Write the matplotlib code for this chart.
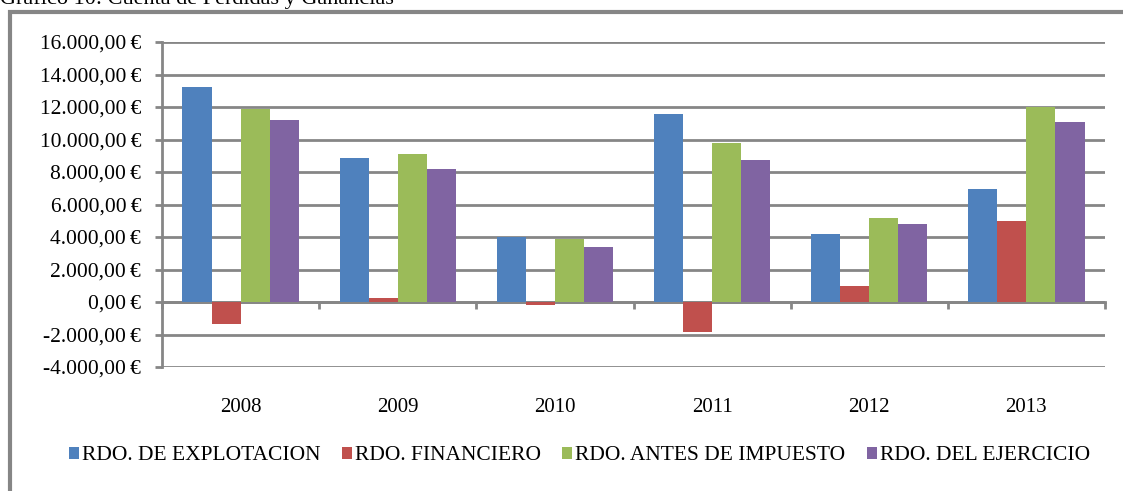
import matplotlib.pyplot as plt
import matplotlib.patches as mpatches
import numpy as np

# Data
years = ["2008", "2009", "2010", "2011", "2012", "2013"]
explotacion = [13250, 8860, 4000, 11600, 4200, 6950]
financiero = [-1350, 250, -200, -1850, 1000, 5000]
antes_impuesto = [11900, 9100, 3850, 9800, 5200, 12000]
ejercicio = [11200, 8200, 3400, 8750, 4800, 11100]

series_names = ["RDO. DE EXPLOTACION", "RDO. FINANCIERO",
                "RDO. ANTES DE IMPUESTO", "RDO. DEL EJERCICIO"]
colors = ["#4F81BD", "#C0504D", "#9BBB59", "#8064A2"]
yticks = list(range(-4000, 16001, 2000))

plt.rcParams['font.family'] = ['Liberation Serif', 'DejaVu Serif']
grey = "#868686"


def fmt_eur(v):
    s = f"{abs(v):,.2f}".replace(",", "X").replace(".", ",").replace("X", ".")
    return ("-" if v < 0 else "") + s + "\u2009€"


fig = plt.figure(figsize=(11.23, 4.91), dpi=100)
ax = fig.add_axes([162 / 1123, 1 - 367 / 491, 943 / 1123, 325 / 491])

x = np.arange(len(years))
w = 0.185
data = [explotacion, financiero, antes_impuesto, ejercicio]
for i, (vals, name, c) in enumerate(zip(data, series_names, colors)):
    ax.bar(x + (i - 1.5) * w, vals, width=w, color=c, label=name, zorder=3)

ax.set_xlim(-0.5, len(years) - 0.5)
ax.set_ylim(-4000, 16000)
ax.set_yticks(yticks)
ax.set_yticklabels([fmt_eur(v) for v in yticks], fontsize=15.5)
ax.yaxis.grid(True, color=grey, linewidth=2, zorder=0)
ax.tick_params(axis='y', direction='out', length=5, width=2, color=grey, pad=10)

ax.set_xticks(x)
ax.set_xticklabels(years, fontsize=15)
ax.tick_params(axis='x', length=0, pad=22)

for s in ['top', 'right', 'bottom']:
    ax.spines[s].set_visible(False)
ax.spines['left'].set_color(grey)
ax.spines['left'].set_linewidth(2)

# zero line with category separator ticks
sec = ax.secondary_xaxis(0.2)
sec.set_xticks(np.arange(len(years) + 1) - 0.5)
sec.set_xticklabels([])
sec.tick_params(direction='out', length=5, width=2, color=grey)
sec.spines['bottom'].set_color(grey)
sec.spines['bottom'].set_linewidth(2)

fig.legend(loc='center', bbox_to_anchor=(0.516, 1 - 456 / 491), ncol=4,
           frameon=False, fontsize=15.5, handlelength=0.45, handleheight=0.45,
           handletextpad=0.15, columnspacing=1.0)

# outer frame and title (cut off at the top)
frame = mpatches.Rectangle((10 / 1123, -0.1), 1.2, 1 - 12 / 491 + 0.1,
                           transform=fig.transFigure, fill=False,
                           edgecolor=grey, linewidth=3, clip_on=False)
fig.patches.append(frame)
fig.text(0.0, 1 - 4 / 491, "Gráfico 10: Cuenta de Pérdidas y Ganancias",
         fontsize=16, va='baseline', ha='left')

fig.savefig("out.png", dpi=100)
